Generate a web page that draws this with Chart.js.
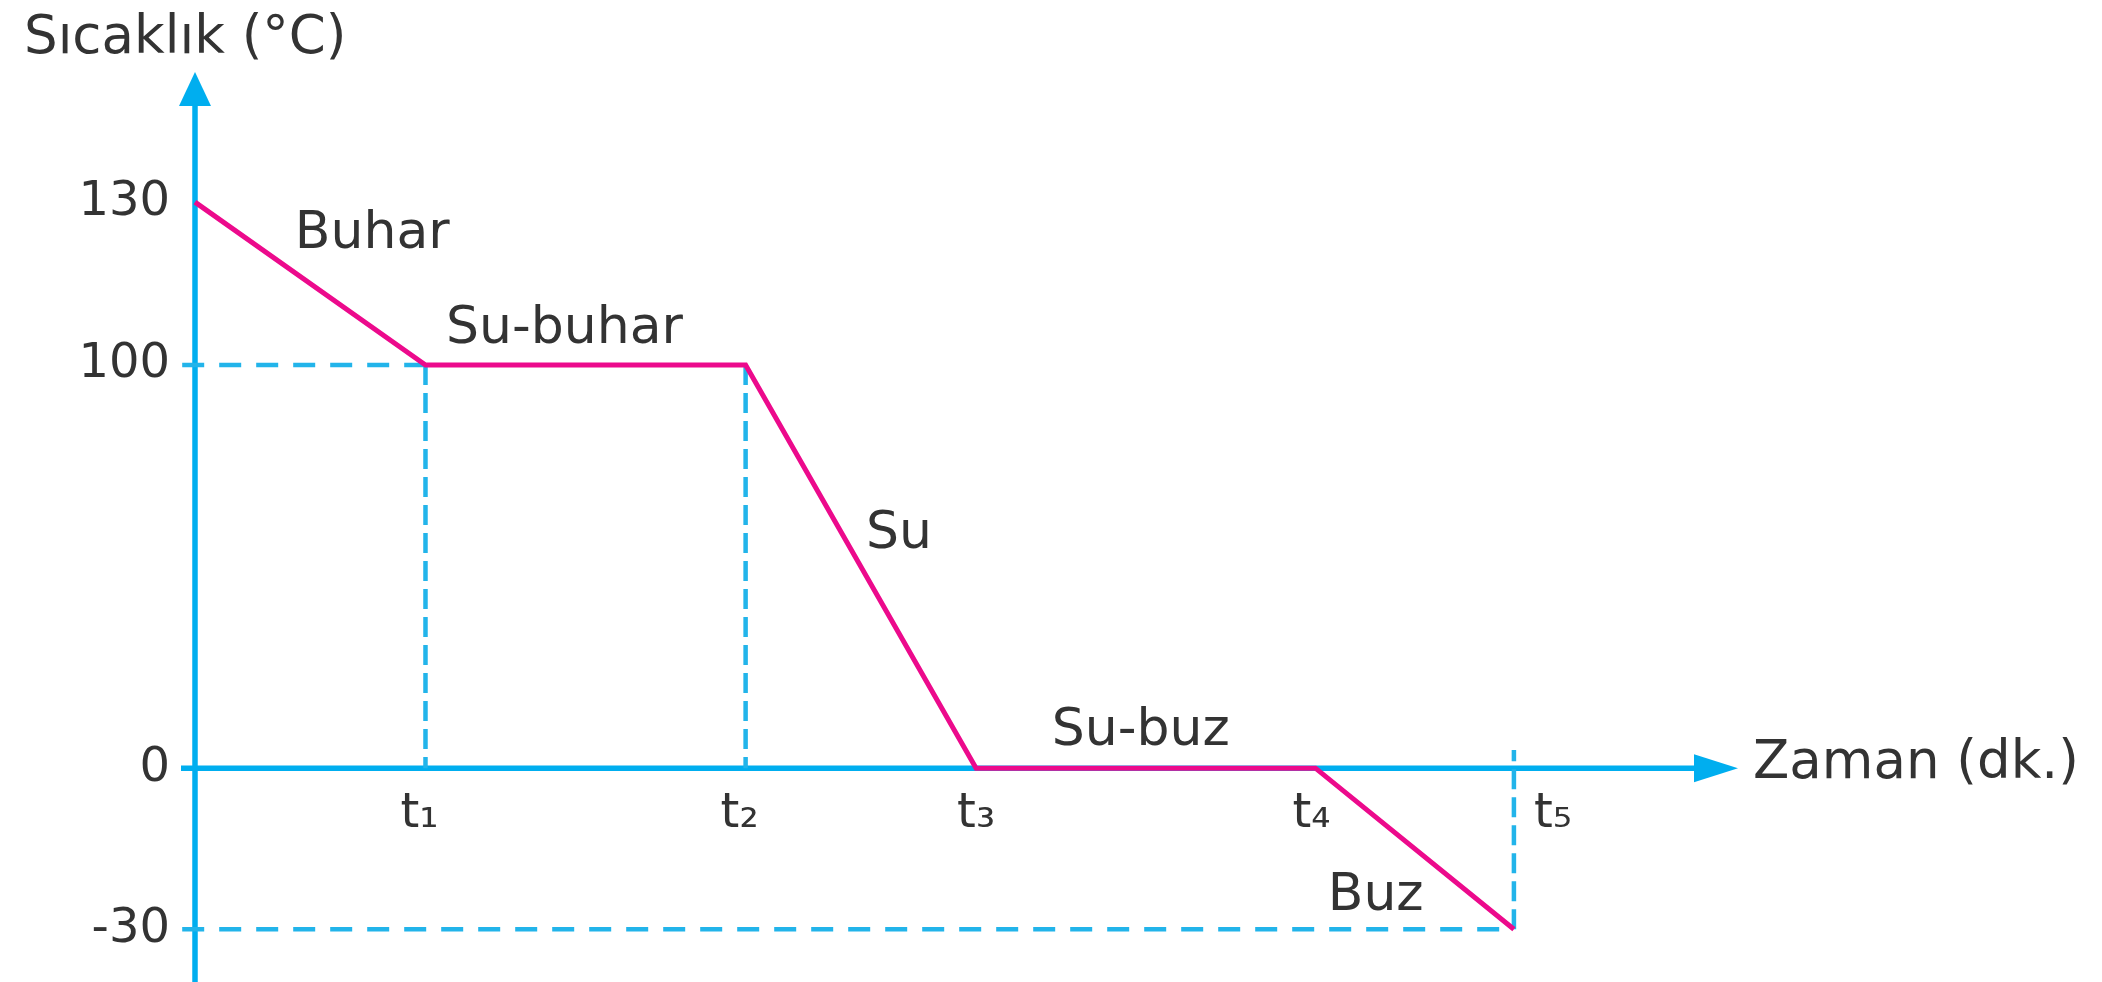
<!DOCTYPE html>
<html lang="tr">
<head>
<meta charset="utf-8">
<title>Sıcaklık – Zaman</title>
<script src="https://cdn.jsdelivr.net/npm/chart.js@4.4.1/dist/chart.umd.min.js"></script>
<style>
  html, body { margin: 0; padding: 0; background: #fff; }
  #wrap { width: 2102px; height: 982px; }
</style>
</head>
<body>
<div id="wrap"><canvas id="chart" width="2102" height="982"></canvas></div>
<script>
// values
const PHASES = ['Buhar', 'Su-buhar', 'Su', 'Su-buz', 'Buz']
const T_LABELS = ['t₁', 't₂', 't₃', 't₄', 't₅']
const T_VALUES = [7.2, 17.2, 24.4, 35, 41.2]
const TIME = [0, ...T_VALUES]
const TEMPS = [130, 100, 100, 0, 0, -30]
const Y_TICKS = [130, 100, 0, -30]

// the drawing is not to scale: value -> fraction of the y axis
const Y_KNOTS = [[-40, 0], [-30, 0.058], [0, 0.235], [100, 0.678], [130, 0.857], [154, 1]]

const AXIS = '#00aeef'
const GUIDE = '#22b4ea'
const PINK = '#ec0a8c'
const TEXT = '#333333'
const FONT = '"DejaVu Sans", sans-serif'

// label nudges (px) from the middle of each segment / each tick
const PHASE_OFFSETS = [[62, -36], [-21, -22], [38, -19], [-5, -23], [-39, 61]]
const T_LABEL_DX = [-6, -6, 0, -4, 39]

const interp = (v, from, to) => {
  for (let i = 1; i < Y_KNOTS.length; i++) {
    const a = Y_KNOTS[i - 1]
    const b = Y_KNOTS[i]
    if (v <= b[from] || i === Y_KNOTS.length - 1) {
      const f = (v - a[from]) / (b[from] - a[from])
      return a[to] + f * (b[to] - a[to])
    }
  }
}

class PiecewiseScale extends Chart.LinearScale {
  getPixelForValue (value) {
    if (value == null || isNaN(value)) return NaN
    return this.getPixelForDecimal(interp(value, 0, 1))
  }

  getValueForPixel (pixel) {
    return interp(this.getDecimalForPixel(pixel), 1, 0)
  }
}
PiecewiseScale.id = 'piecewise'
PiecewiseScale.defaults = Chart.LinearScale.defaults
Chart.register(PiecewiseScale)

const pts = (xs, ys) => xs.map((x, i) => ({ x, y: ys[i] }))

const guide = (data, dash) => ({
  data,
  borderColor: GUIDE,
  borderWidth: 4.5,
  borderDash: dash,
  pointRadius: 0,
  clip: false
})

const diagramPlugin = {
  id: 'diagram',
  beforeDatasetsDraw (chart) {
    const { ctx, chartArea: a, scales: { x, y } } = chart
    const ox = x.getPixelForValue(0)
    const oy = y.getPixelForValue(0)
    ctx.save()
    ctx.strokeStyle = AXIS
    ctx.fillStyle = AXIS
    ctx.lineWidth = 5.5

    ctx.beginPath()
    ctx.moveTo(ox, chart.height)
    ctx.lineTo(ox, a.top + 28)
    ctx.stroke()
    ctx.beginPath()
    ctx.moveTo(ox, a.top)
    ctx.lineTo(ox - 16, a.top + 34)
    ctx.lineTo(ox + 16, a.top + 34)
    ctx.closePath()
    ctx.fill()

    ctx.beginPath()
    ctx.moveTo(ox - 14, oy)
    ctx.lineTo(a.right - 38, oy)
    ctx.stroke()
    ctx.beginPath()
    ctx.moveTo(a.right, oy)
    ctx.lineTo(a.right - 44, oy - 14)
    ctx.lineTo(a.right - 44, oy + 14)
    ctx.closePath()
    ctx.fill()
    ctx.restore()
  },
  afterDraw (chart) {
    const { ctx, chartArea: a, scales: { x, y } } = chart
    const oy = y.getPixelForValue(0)
    ctx.save()
    ctx.fillStyle = TEXT
    ctx.textBaseline = 'alphabetic'

    ctx.font = `53px ${FONT}`
    ctx.textAlign = 'left'
    ctx.fillText('Sıcaklık (°C)', 24, 53)
    ctx.fillText('Zaman (dk.)', a.right + 15, oy + 10)

    ctx.font = `48px ${FONT}`
    ctx.textAlign = 'center'
    T_VALUES.forEach((t, i) => {
      ctx.fillText(T_LABELS[i], x.getPixelForValue(t) + T_LABEL_DX[i], oy + 59)
    })

    ctx.font = `52px ${FONT}`
    PHASES.forEach((name, i) => {
      const x0 = x.getPixelForValue(TIME[i])
      const x1 = x.getPixelForValue(TIME[i + 1])
      const y0 = y.getPixelForValue(TEMPS[i])
      const y1 = y.getPixelForValue(TEMPS[i + 1])
      const [dx, dy] = PHASE_OFFSETS[i]
      ctx.fillText(name, (x0 + x1) / 2 + dx, (y0 + y1) / 2 + dy)
    })
    ctx.restore()
  }
}

// eslint-disable-next-line no-unused-vars
const chart = new Chart(document.getElementById('chart'), {
  type: 'line',
  data: {
    datasets: [
      {
        data: pts(TIME, TEMPS),
        borderColor: PINK,
        borderWidth: 5,
        pointRadius: 0,
        tension: 0,
        clip: false
      },
      guide(pts([-0.4, T_VALUES[0]], [100, 100]), [22, 15]),
      guide(pts([-0.4, T_VALUES[4]], [-30, -30]), [22, 15]),
      guide(pts([T_VALUES[0], T_VALUES[0]], [100, 0]), [20, 8]),
      guide(pts([T_VALUES[1], T_VALUES[1]], [100, 0]), [20, 8]),
      guide(pts([T_VALUES[4], T_VALUES[4]], [-30, 4.5]), [20, 8])
    ]
  },
  options: {
    responsive: false,
    animation: false,
    layout: { padding: { top: 72, right: 364, bottom: 0, left: 0 } },
    plugins: {
      legend: { display: false },
      tooltip: { enabled: false }
    },
    scales: {
      x: { type: 'linear', min: 0, max: 48.2, display: false },
      y: {
        type: 'piecewise',
        min: -40,
        max: 154,
        grid: { display: false, drawTicks: false },
        border: { display: false },
        afterFit: (s) => {
          s.width = 195
          s.paddingTop = 0
          s.paddingBottom = 0
        },
        afterBuildTicks: (s) => { s.ticks = Y_TICKS.map((value) => ({ value })) },
        ticks: {
          padding: 25,
          color: TEXT,
          font: { family: FONT, size: 48 },
          callback: (v) => String(v)
        }
      }
    }
  },
  plugins: [diagramPlugin]
})
</script>
</body>
</html>
